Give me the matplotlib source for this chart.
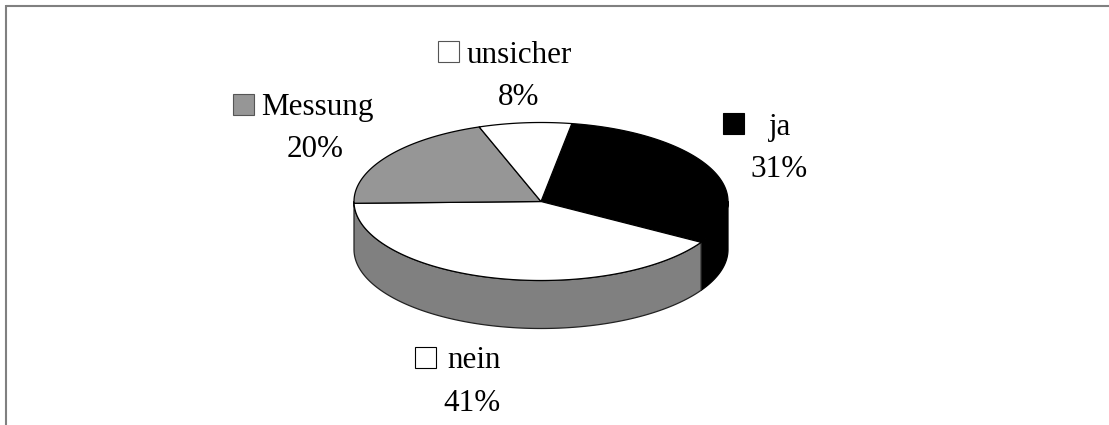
import numpy as np
import matplotlib
matplotlib.use("Agg")
import matplotlib.pyplot as plt
from matplotlib.patches import Polygon, Rectangle

labels = ["ja", "nein", "Messung", "unsicher"]
shares = [31, 41, 20, 8]
top_colors = ["#000000", "#ffffff", "#969696", "#ffffff"]
side_colors = ["#000000", "#808080", None, None]
key_colors = ["#000000", "#ffffff", "#969696", "#ffffff"]
key_edges = ["#000000", "#000000", "#555555", "#555555"]

# Pie geometry in pixel units of the figure
CX, CY, RX, RY, DEPTH = 541.0, 201.5, 187.0, 79.0, 48.0
START = 9.5

# (key left, key top, label x, label baseline, percent x, percent baseline)
label_places = {
    "ja": (722.5, 113, 780, 134.5, 779.5, 177),
    "nein": (415, 347, 474, 368.5, 471.5, 411),
    "Messung": (233, 93.5, 317.5, 115, 315, 157),
    "unsicher": (437.5, 41, 519, 63, 518.5, 105),
}

fig = plt.figure(figsize=(11.09, 4.25), dpi=100, facecolor="white")
ax = fig.add_axes([0, 0, 1, 1])
ax.set_xlim(0, 1109)
ax.set_ylim(425, 0)
ax.axis("off")


def rim(theta_deg, drop=0.0):
    t = np.radians(theta_deg)
    return np.column_stack((CX + RX * np.sin(t), CY - RY * np.cos(t) + drop))


# Outer frame: only the top and left edges are drawn
ax.plot([6, 1109], [6, 6], color="#808080", lw=1.5, solid_capstyle="butt")
ax.plot([6, 6], [5, 425], color="#808080", lw=1.5, solid_capstyle="butt")

edges = START + np.concatenate(([0], np.cumsum(shares))) * 3.6

# Wall of the disc: only the part facing the viewer (90..270 degrees)
for i, colour in enumerate(side_colors):
    if colour is None:
        continue
    a = max(edges[i], 90)
    b = edges[i + 1] if side_colors[i + 1] else 270
    arc = np.linspace(a, b, 120)
    pts = np.vstack((rim(arc), rim(arc[::-1], DEPTH)))
    outline = "#000000" if colour == "#000000" else "#222222"
    ax.add_patch(Polygon(pts, closed=True, facecolor=colour,
                         edgecolor=outline, lw=0.9, joinstyle="round"))

# Top face of the disc
for i in range(len(shares)):
    arc = np.linspace(edges[i], edges[i + 1], 160)
    pts = np.vstack(([[CX, CY]], rim(arc)))
    ax.add_patch(Polygon(pts, closed=True, facecolor=top_colors[i],
                         edgecolor="#000000", lw=0.9, joinstyle="round"))

# Category labels with a colour key and the percentage underneath
font = dict(family="Liberation Serif", fontsize=22.4, color="black",
            ha="center", va="baseline")
for i, name in enumerate(labels):
    kx, ky, lx, ly, px, py = label_places[name]
    ax.add_patch(Rectangle((kx, ky), 21, 21, facecolor=key_colors[i],
                           edgecolor=key_edges[i], lw=0.8))
    ax.text(lx, ly, name, **font)
    ax.text(px, py, f"{shares[i]}%", **font)

fig.savefig("out.png", dpi=100, facecolor="white")
